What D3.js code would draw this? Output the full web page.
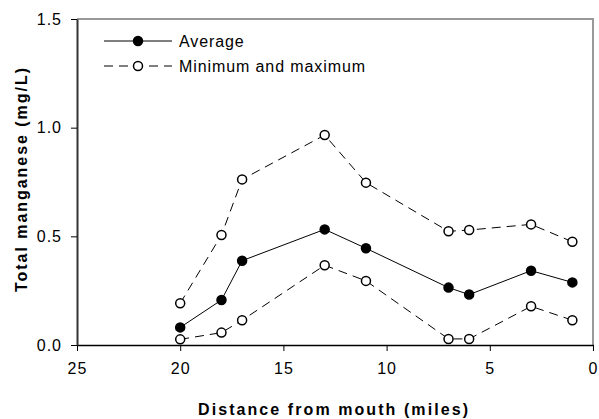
<!DOCTYPE html>
<html>
<head>
<meta charset="utf-8">
<script src="https://cdn.jsdelivr.net/npm/d3@7"></script>
<style>
  body { margin: 0; background: #fff; }
  text { font-family: "Liberation Sans", Arial, sans-serif; fill: #000; }
</style>
</head>
<body>
<div id="chart"></div>
<script>
// distance from mouth (miles)
const miles = [20, 18, 17, 13, 11, 7, 6, 3, 1];
// total manganese (mg/L)
const average = [0.081, 0.207, 0.388, 0.532, 0.445, 0.264, 0.232, 0.342, 0.288];
const minimum = [0.026, 0.057, 0.114, 0.367, 0.295, 0.028, 0.028, 0.178, 0.114];
const maximum = [0.192, 0.506, 0.762, 0.966, 0.747, 0.523, 0.529, 0.555, 0.475];
const xTicks = [25, 20, 15, 10, 5, 0];
const yTicks = [0.0, 0.5, 1.0, 1.5];

const width = 599, height = 419;
const margin = {top: 19, right: 6, bottom: 74, left: 77};

let svg = d3.select("#chart").append("svg")
    .attr("width", width)
    .attr("height", height);

let x = d3.scaleLinear().domain([25, 0]).range([margin.left, width - margin.right]);
let y = d3.scaleLinear().domain([0, 1.5]).range([height - margin.bottom, margin.top]);

// top and right frame (grey)
svg.append("path")
    .attr("d", "M" + x(25) + "," + y(1.5) + "H" + x(0) + "V" + y(0))
    .attr("fill", "none")
    .attr("stroke", "#999")
    .attr("stroke-width", 2);

// x axis
let xAxis = svg.append("g")
    .attr("transform", "translate(0," + y(0) + ")")
    .call(d3.axisBottom(x).tickValues(xTicks).tickSize(6).tickSizeOuter(0).tickPadding(12));
xAxis.select(".domain").attr("stroke", "#000").attr("stroke-width", 1.5);
xAxis.selectAll(".tick line").attr("stroke", "#000");
xAxis.selectAll("text")
    .attr("font-size", 16)
    .attr("letter-spacing", "1px")
    .style("font-family", "Liberation Sans, Arial, sans-serif");

// y axis
let yAxis = svg.append("g")
    .attr("transform", "translate(" + x(25) + ",0)")
    .call(d3.axisLeft(y).tickValues(yTicks).tickFormat(d3.format(".1f")).tickSize(6).tickSizeOuter(0).tickPadding(9));
yAxis.select(".domain").attr("stroke", "#333").attr("stroke-width", 2);
yAxis.selectAll(".tick line").attr("stroke", "#000");
yAxis.selectAll("text")
    .attr("font-size", 16)
    .attr("letter-spacing", "1px")
    .style("font-family", "Liberation Sans, Arial, sans-serif");

// axis titles
svg.append("text")
    .attr("x", 333)
    .attr("y", 415)
    .attr("text-anchor", "middle")
    .attr("font-size", 16)
    .attr("font-weight", "bold")
    .attr("textLength", 270)
    .attr("lengthAdjust", "spacing")
    .text("Distance from mouth (miles)");

svg.append("text")
    .attr("transform", "translate(27,180) rotate(-90)")
    .attr("text-anchor", "middle")
    .attr("font-size", 16)
    .attr("font-weight", "bold")
    .attr("textLength", 224)
    .attr("lengthAdjust", "spacing")
    .text("Total manganese (mg/L)");

let line = d3.line()
    .x(function(d) { return x(d[0]); })
    .y(function(d) { return y(d[1]); });

function drawSeries(values, dashed, filled)
{
    let pts = miles.map(function(m, i) { return [m, values[i]]; });
    svg.append("path")
        .datum(pts)
        .attr("d", line)
        .attr("fill", "none")
        .attr("stroke", "#000")
        .attr("stroke-width", 1)
        .attr("stroke-dasharray", dashed ? "9,6" : null);
    svg.selectAll(null)
        .data(pts)
        .enter().append("circle")
        .attr("cx", function(d) { return x(d[0]); })
        .attr("cy", function(d) { return y(d[1]); })
        .attr("r", 4.5)
        .attr("fill", filled ? "#000" : "#fff")
        .attr("stroke", "#000")
        .attr("stroke-width", 1.5);
}

drawSeries(maximum, true, false);
drawSeries(minimum, true, false);
drawSeries(average, false, true);

// legend
let legend = [
    {label: "Average", dashed: false, filled: true, y: 41},
    {label: "Minimum and maximum", dashed: true, filled: false, y: 66}
];
legend.forEach(function(l) {
    svg.append("line")
        .attr("x1", 104).attr("x2", 172)
        .attr("y1", l.y).attr("y2", l.y)
        .attr("stroke", "#000")
        .attr("stroke-width", 1)
        .attr("stroke-dasharray", l.dashed ? "9,6" : null);
    svg.append("circle")
        .attr("cx", 138).attr("cy", l.y)
        .attr("r", 4.5)
        .attr("fill", l.filled ? "#000" : "#fff")
        .attr("stroke", "#000")
        .attr("stroke-width", 1.5);
    svg.append("text")
        .attr("x", 179)
        .attr("y", l.y)
        .attr("dy", "0.36em")
        .attr("font-size", 16)
        .attr("letter-spacing", "0.9px")
        .text(l.label);
});
</script>
</body>
</html>
